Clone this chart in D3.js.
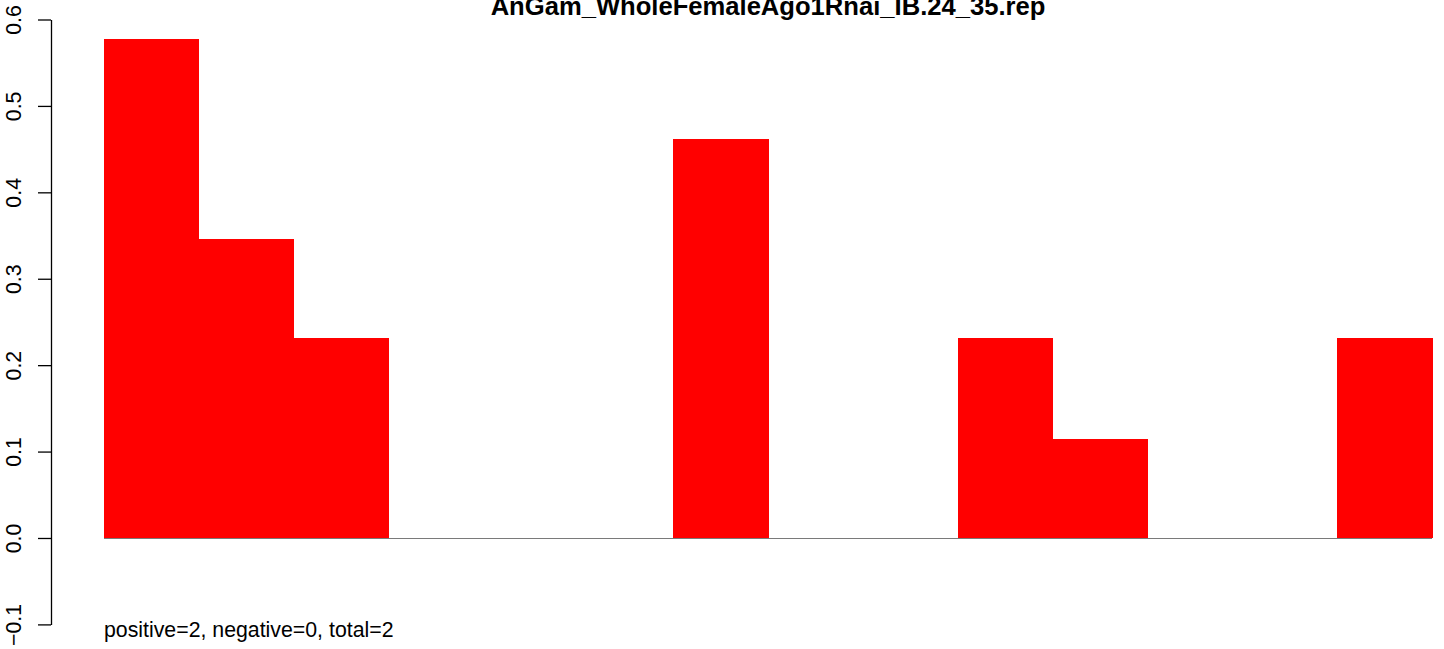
<!DOCTYPE html>
<html><head><meta charset="utf-8">
<script src="https://cdn.jsdelivr.net/npm/d3@7"></script>
<style>html,body{margin:0;padding:0;background:#fff;overflow:hidden}</style>
</head><body>
<svg id="c" width="1444" height="649"></svg>
<script>
const categories = ["1","2","3","4","5","6","7","8","9","10","11","12","13","14"];
const values = [0.577, 0.346, 0.231, 0, 0, 0, 0.462, 0, 0, 0.231, 0.115, 0, 0, 0.231];
const yTicks = [-0.1, 0.0, 0.1, 0.2, 0.3, 0.4, 0.5, 0.6];
const title = "AnGam_WholeFemaleAgo1Rnai_IB.24_35.rep";
const note = "positive=2, negative=0, total=2";

const svg = d3.select("#c");
const font = "Liberation Sans, Arial, Helvetica, sans-serif";
const x = d3.scaleBand().domain(categories).range([104, 1432]).padding(0);
const y = d3.scaleLinear().domain([-0.1, 0.6]).range([624.4, 19.5]);

svg.append("g").selectAll("rect").data(values).join("rect")
  .attr("x", (d,i) => x(categories[i]))
  .attr("width", x.bandwidth() + 0.6)
  .attr("y", d => y(Math.max(0,d)))
  .attr("height", d => Math.abs(y(d) - y(0)))
  .attr("fill", "#ff0000")
  .attr("shape-rendering", "crispEdges");

svg.append("line").attr("x1", 104).attr("x2", 1432)
  .attr("y1", Math.round(y(0)) + 0.5).attr("y2", Math.round(y(0)) + 0.5)
  .attr("stroke", "#7a7a7a").attr("stroke-width", 1.3)
  .attr("shape-rendering", "crispEdges");

const axis = d3.axisLeft(y).tickValues(yTicks).tickFormat(d3.format(".1f")).tickSize(13).tickSizeOuter(0);
const g = svg.append("g").attr("transform", "translate(51,0)").call(axis);
g.select(".domain").attr("stroke", "#000").attr("stroke-width", 1.3);
g.selectAll(".tick line").attr("stroke", "#000").attr("stroke-width", 1.3);
g.selectAll(".tick text")
  .attr("x", null).attr("dy", null)
  .attr("transform", "translate(-30,0) rotate(-90)")
  .attr("text-anchor", "middle")
  .style("font-family", font).style("font-size", "21.3px").attr("fill", "#000")
  .text(d => d < 0 ? "\u2212" + Math.abs(d).toFixed(1) : d.toFixed(1));

svg.append("text").attr("x", (104+1432)/2).attr("y", 14.5)
  .attr("text-anchor", "middle")
  .style("font-family", font).style("font-size", "25.6px").style("font-weight", "bold")
  .text(title);

svg.append("text").attr("x", 104).attr("y", 637)
  .style("font-family", font).style("font-size", "21.3px")
  .text(note);
</script>
</body></html>
